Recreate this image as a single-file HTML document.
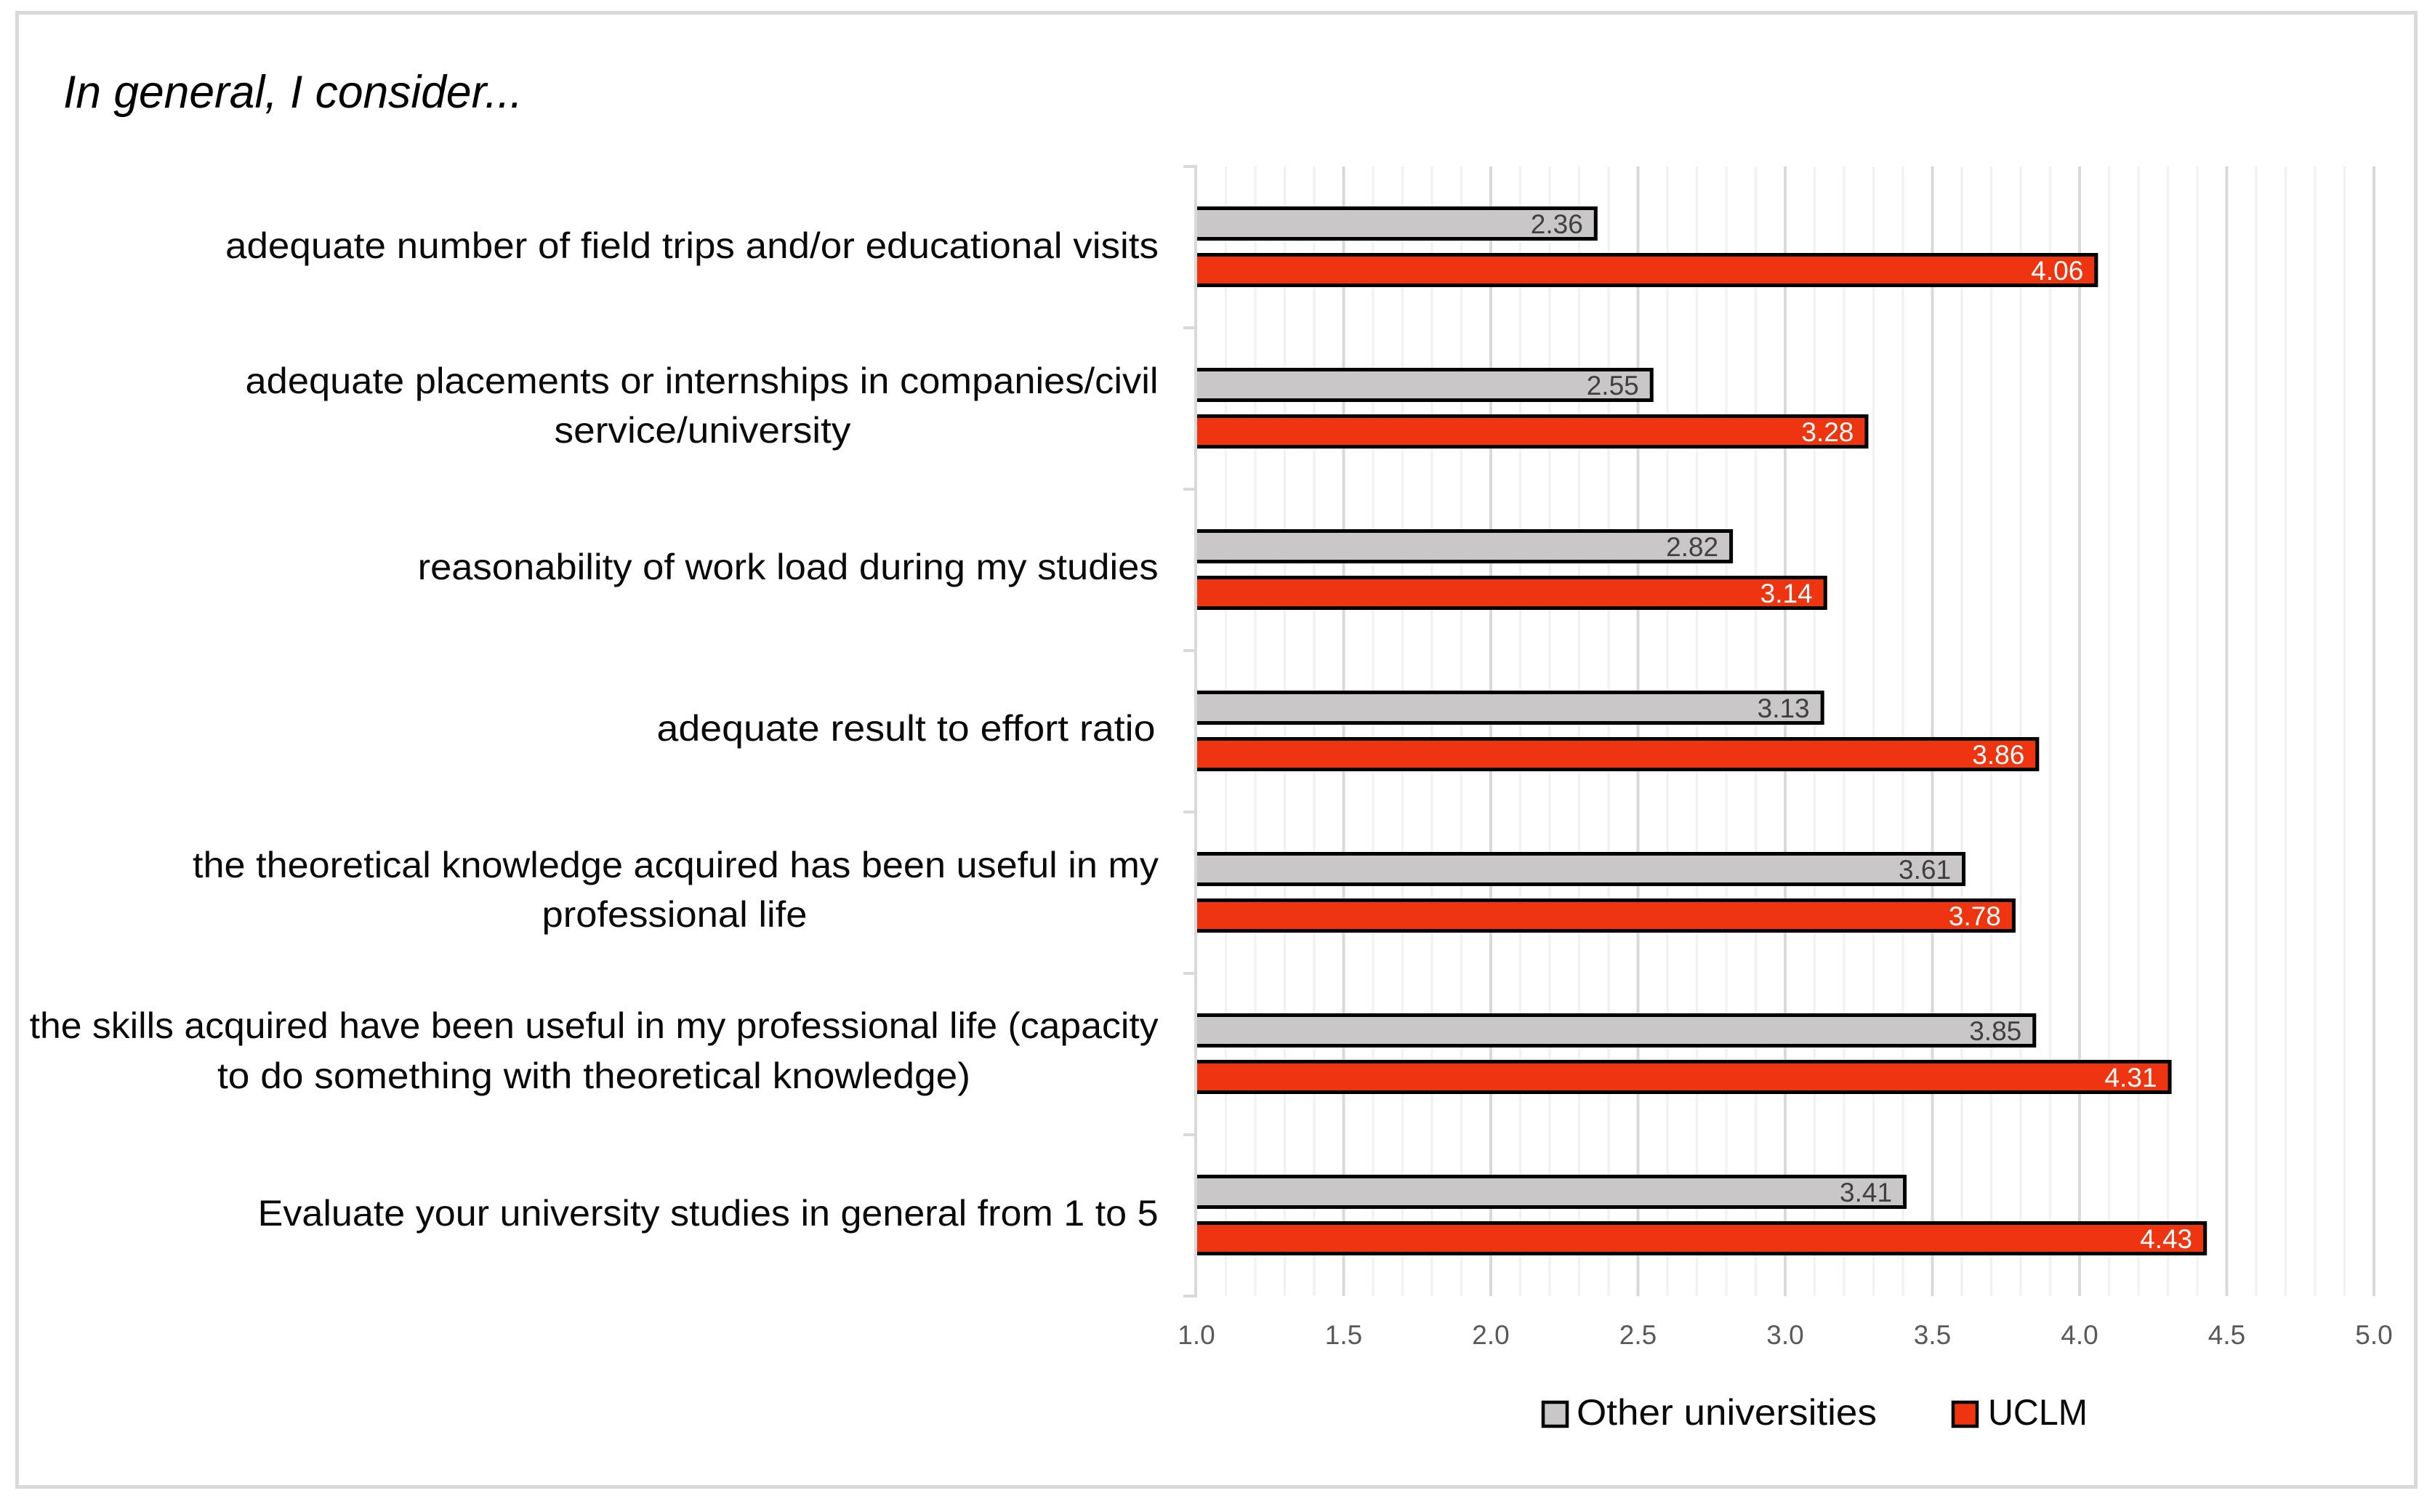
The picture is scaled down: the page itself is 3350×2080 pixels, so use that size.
<!DOCTYPE html>
<html lang="en">
<head>
<meta charset="utf-8">
<title>In general, I consider...</title>
<style>
  html, body { margin: 0; padding: 0; background: #fff; }
  svg { display: block; }
  text { font-family: "Liberation Sans", sans-serif; }
  .cat { font-size: 50px; fill: #0a0a0a; }
</style>
</head>
<body>
<svg id="chart" xmlns="http://www.w3.org/2000/svg" width="3350" height="2080" viewBox="0 0 3350 2080">
  <rect x="0" y="0" width="3350" height="2080" fill="#ffffff"/>
  <rect x="23.5" y="17.5" width="3300" height="2028" fill="none" stroke="#d9d9d9" stroke-width="5"/>
  <text x="87" y="148" font-size="63" font-style="italic" fill="#000" textLength="632" lengthAdjust="spacingAndGlyphs">In general, I consider...</text>

  <g id="grid"></g>
  <g id="axis"></g>
  <g id="bars"></g>
  <g id="xlabels"></g>

  <g>
    <text class="cat" x="310" y="355" textLength="1284" lengthAdjust="spacingAndGlyphs">adequate number of field trips and/or educational visits</text>
    <text class="cat" x="337.5" y="541" textLength="1256" lengthAdjust="spacingAndGlyphs">adequate placements or internships in companies/civil</text>
    <text class="cat" x="762.5" y="609" textLength="408" lengthAdjust="spacingAndGlyphs">service/university</text>
    <text class="cat" x="574.6" y="797" textLength="1019" lengthAdjust="spacingAndGlyphs">reasonability of work load during my studies</text>
    <text class="cat" x="903.5" y="1019" textLength="686" lengthAdjust="spacingAndGlyphs">adequate result to effort ratio</text>
    <text class="cat" x="265" y="1207" textLength="1329" lengthAdjust="spacingAndGlyphs">the theoretical knowledge acquired has been useful in my</text>
    <text class="cat" x="745.5" y="1275" textLength="365" lengthAdjust="spacingAndGlyphs">professional life</text>
    <text class="cat" x="40.6" y="1428" textLength="1553" lengthAdjust="spacingAndGlyphs">the skills acquired have been useful in my professional life (capacity</text>
    <text class="cat" x="299" y="1497" textLength="1036" lengthAdjust="spacingAndGlyphs">to do something with theoretical knowledge)</text>
    <text class="cat" x="354.6" y="1686" textLength="1239" lengthAdjust="spacingAndGlyphs">Evaluate your university studies in general from 1 to 5</text>
  </g>

  <g>
    <rect x="2123" y="1929" width="33" height="33" fill="#c9c7c7" stroke="#000" stroke-width="4.5"/>
    <text class="cat" x="2169" y="1960" textLength="413" lengthAdjust="spacingAndGlyphs">Other universities</text>
    <rect x="2687" y="1929" width="33" height="33" fill="#ef3410" stroke="#000" stroke-width="4.5"/>
    <text class="cat" x="2735" y="1960" textLength="137" lengthAdjust="spacingAndGlyphs">UCLM</text>
  </g>
</svg>

<script>
const categories = ['field-trips', 'placements', 'work-load', 'effort-ratio', 'theoretical-knowledge', 'skills', 'overall'];
const otherUniversities = [2.36, 2.55, 2.82, 3.13, 3.61, 3.85, 3.41];
const uclm = [4.06, 3.28, 3.14, 3.86, 3.78, 4.31, 4.43];
const xTickLabels = ['1.0', '1.5', '2.0', '2.5', '3.0', '3.5', '4.0', '4.5', '5.0'];
const minorTickValues = ['1.1', '1.2', '1.3', '1.4', '1.6', '1.7', '1.8', '1.9', '2.1', '2.2', '2.3', '2.4', '2.6', '2.7', '2.8', '2.9', '3.1', '3.2', '3.3', '3.4', '3.6', '3.7', '3.8', '3.9', '4.1', '4.2', '4.3', '4.4', '4.6', '4.7', '4.8', '4.9'];

const NS = 'http://www.w3.org/2000/svg';
const plotTop = 229, plotBottom = 1783, bandStep = 222;
const xScale = v => 1646 + (v - 1) * 405;
const bandTop = i => plotTop + i * bandStep;

function make(parent, tag, attrs, txt) {
  const n = document.createElementNS(NS, tag);
  for (const k in attrs) n.setAttribute(k, attrs[k]);
  if (txt !== undefined) n.textContent = txt;
  parent.appendChild(n);
  return n;
}

const grid = document.getElementById('grid');
const axis = document.getElementById('axis');
const barsG = document.getElementById('bars');
const xlabels = document.getElementById('xlabels');

minorTickValues.forEach(t => {
  const x = xScale(parseFloat(t));
  const line = make(grid, 'line', { x1: x, x2: x, y1: plotTop, y2: plotBottom, stroke: '#f2f2f2', 'stroke-width': 3.5 });
  
  
});

xTickLabels.forEach(t => {
  const v = parseFloat(t);
  const x = xScale(v);
  if (v > 1) {
    const line = make(grid, 'line', { x1: x, x2: x, y1: plotTop, y2: plotBottom, stroke: '#d9d9d9', 'stroke-width': 4 });
    
    
  }
  const lab = make(xlabels, 'text', { x: x, y: 1849, 'text-anchor': 'middle', 'font-size': 37, fill: '#595959' }, t);
  
  
});

const axisLine = make(axis, 'line', { x1: 1645, x2: 1645, y1: plotTop - 2, y2: plotBottom + 2, stroke: '#d9d9d9', 'stroke-width': 4 });



for (let i = 0; i <= categories.length; i++) {
  const tick = make(axis, 'line', { x1: 1628, x2: 1645, y1: bandTop(i), y2: bandTop(i), stroke: '#d9d9d9', 'stroke-width': 4 });
  
  
}

function drawBar(value, i, offset, fill, labelColor, seriesName) {
  const sw = 5, h = 47;
  const x0 = 1647;
  const xEnd = xScale(value) + 1;
  const y = bandTop(i) + offset;
  const rect = make(barsG, 'rect', { x: x0, y: y, width: xEnd - x0, height: h, fill: fill });
  
  
  const edge = make(barsG, 'path', {
    d: 'M' + x0 + ' ' + (y + sw / 2) + 'H' + (xEnd - sw / 2) + 'V' + (y + h - sw / 2) + 'H' + x0,
    fill: 'none', stroke: '#000', 'stroke-width': sw
  });
  
  
  const lab = make(barsG, 'text', { x: xEnd - 20, y: y + h - 10, 'text-anchor': 'end', 'font-size': 37, fill: labelColor }, value.toFixed(2));
  
  
}

categories.forEach((c, i) => {
  drawBar(otherUniversities[i], i, 55, '#c9c7c7', '#404040', 'other-universities');
  drawBar(uclm[i], i, 119, '#ef3410', '#ffffff', 'uclm');
});
</script>
</body>
</html>
